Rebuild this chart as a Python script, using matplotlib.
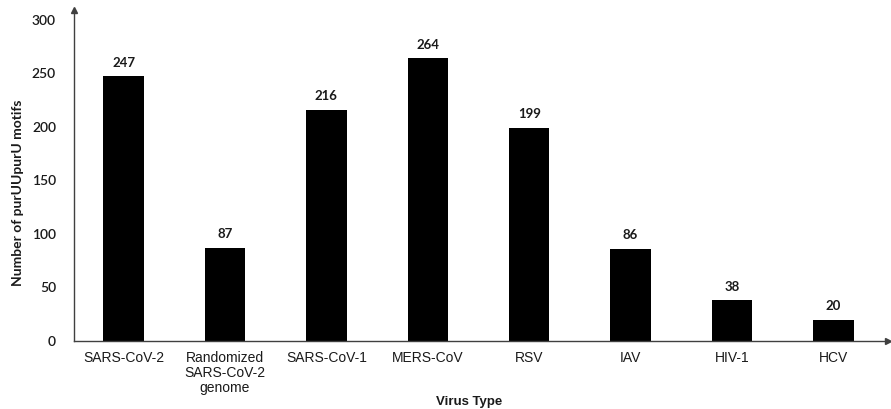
import matplotlib
matplotlib.use("Agg")
import matplotlib.pyplot as plt

categories = ["SARS-CoV-2", "Randomized\nSARS-CoV-2\ngenome", "SARS-CoV-1", "MERS-CoV", "RSV", "IAV", "HIV-1", "HCV"]
values = [247, 87, 216, 264, 199, 86, 38, 20]
yticks = [0, 50, 100, 150, 200, 250, 300]

plt.rcParams['font.family'] = ['Liberation Sans', 'DejaVu Sans']
calib = ['Lato', 'DejaVu Sans']

fig = plt.figure(figsize=(8.91, 4.09), dpi=100)
ax = fig.add_axes([74/891, 1-341/409, (888-74)/891, (341-10)/409])

x = list(range(len(categories)))
ax.bar(x, values, width=0.4, color='black')
for xi, v in zip(x, values):
    ax.text(xi, v + 7, str(v), ha='center', va='bottom', fontsize=9.5,
            family=calib, fontweight='bold', color='#1a1a1a')

ax.set_xlim(-0.49, 7.54)
ax.set_ylim(0, 309)
ax.set_xticks(x)
ax.set_xticklabels(categories, fontsize=10, color='#1a1a1a', linespacing=1.1)
ax.set_yticks(yticks)
ax.set_yticklabels([str(t) for t in yticks], fontsize=10, color='#1a1a1a',
                   family=calib, fontweight='semibold')
ax.tick_params(length=0)
ax.tick_params(axis='x', pad=7)
ax.tick_params(axis='y', pad=13)

for s in ['top', 'right']:
    ax.spines[s].set_visible(False)
for s in ['left', 'bottom']:
    ax.spines[s].set_color('#404040')
    ax.spines[s].set_linewidth(1.0)

ax.plot(1, 0, marker='>', color='#404040', markersize=5, transform=ax.transAxes, clip_on=False)
ax.plot(0, 1, marker='^', color='#404040', markersize=5, transform=ax.transAxes, clip_on=False)

ax.set_ylabel("Number of purUUpurU motifs", fontsize=10, fontweight='bold', color='#1a1a1a',
              family=calib, va='center')
ax.yaxis.set_label_coords(-(74-18)/814, 0.5 - 17/331)
ax.set_xlabel("Virus Type", fontsize=9.5, fontweight='bold', color='#1a1a1a', va='center')
ax.xaxis.set_label_coords(0.5 - 0.015, -(402-341)/331)

fig.savefig("out.png", dpi=100)
